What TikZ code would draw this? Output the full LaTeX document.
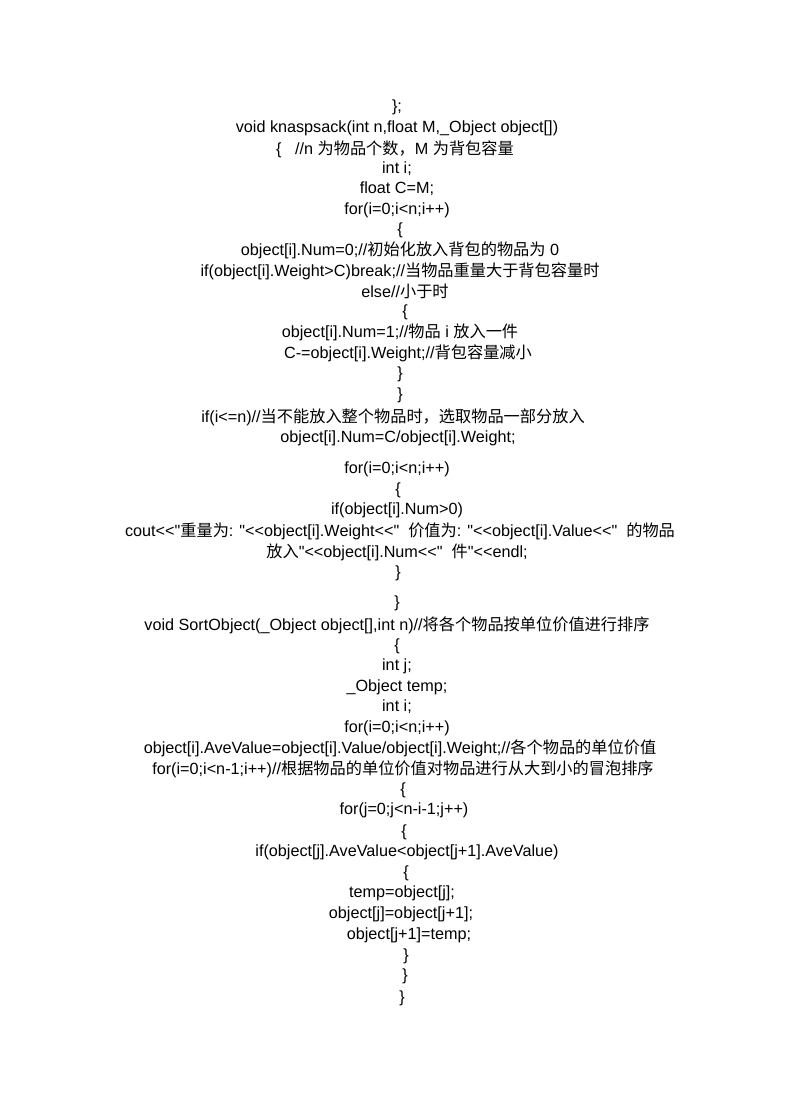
\documentclass[tikz,border=0pt]{standalone}
\usepackage{fontspec}
\setmainfont{Liberation Sans}[Ligatures=TeXOff]
\newfontfamily\cjk{Noto Sans CJK SC}
\newcommand\zh[1]{{\cjk #1}}
\newcommand\q{\char34 }
\tikzset{codeline/.style={inner sep=0pt,anchor=center,font=\fontsize{16.2bp}{18bp}\selectfont}}
\begin{document}
\begin{tikzpicture}[x=1bp,y=-1bp]
\useasboundingbox (0,0) rectangle (792,1120);
% knapsack
\node[codeline] (l1) at (397,107) {\};};
\node[codeline] (l2) at (397,128) {void knaspsack(int n,float M,\_Object object[])};
\node[codeline] (l3) at (395,149) {\{\ \ \ //n \zh{为物品个数，}M \zh{为背包容量}};
\node[codeline] (l4) at (397,169) {int i;};
\node[codeline] (l5) at (397,189) {float C=M;};
\node[codeline] (l6) at (397,210) {for(i=0;i<n;i++)};
\node[codeline] (l7) at (400,230) {\{};
\node[codeline] (l8) at (400,250) {object[i].Num=0;//\zh{初始化放入背包的物品为} 0};
\node[codeline] (l9) at (400,271) {if(object[i].Weight>C)break;//\zh{当物品重量大于背包容量时}};
\node[codeline] (l10) at (405,291) {else//\zh{小于时}};
\node[codeline] (l11) at (405,312) {\{};
\node[codeline] (l12) at (400,332) {object[i].Num=1;//\zh{物品} i \zh{放入一件}};
\node[codeline] (l13) at (408,353) {C-{}=object[i].Weight;//\zh{背包容量减小}};
\node[codeline] (l14) at (400,374) {\}};
\node[codeline] (l15) at (400,395) {\}};
\node[codeline] (l16) at (393,417) {if(i<=n)//\zh{当不能放入整个物品时，选取物品一部分放入}};
\node[codeline] (l17) at (398,438) {object[i].Num=C/object[i].Weight;};
% output
\node[codeline] (l18) at (397,469) {for(i=0;i<n;i++)};
\node[codeline] (l19) at (398,490) {\{};
\node[codeline] (l20) at (397,510) {if(object[i].Num>0)};
\node[codeline] (l21) at (400,531) {cout<{}<\q\zh{重量为}: \q<{}<object[i].Weight<{}<\q\ \ \zh{价值为}: \q<{}<object[i].Value<{}<\q\ \ \zh{的物品}};
\node[codeline] (l22) at (397,552) {\zh{放入}\q<{}<object[i].Num<{}<\q\ \ \zh{件}\q<{}<endl;};
\node[codeline] (l23) at (398,573) {\}};
\node[codeline] (l24) at (397,603) {\}};
% sort
\node[codeline] (l25) at (397,625) {void SortObject(\_Object object[],int n)//\zh{将各个物品按单位价值进行排序}};
\node[codeline] (l26) at (397,646) {\{};
\node[codeline] (l27) at (397,666) {int j;};
\node[codeline] (l28) at (397,687) {\_Object temp;};
\node[codeline] (l29) at (397,707) {int i;};
\node[codeline] (l30) at (397,728) {for(i=0;i<n;i++)};
\node[codeline] (l31) at (400,748) {object[i].AveValue=object[i].Value/object[i].Weight;//\zh{各个物品的单位价值}};
\node[codeline] (l32) at (403,769) {for(i=0;i<n-1;i++)//\zh{根据物品的单位价值对物品进行从大到小的冒泡排序}};
\node[codeline] (l33) at (403,790) {\{};
\node[codeline] (l34) at (404,810) {for(j=0;j<n-i-1;j++)};
\node[codeline] (l35) at (404,832) {\{};
\node[codeline] (l36) at (407,852) {if(object[j].AveValue<object[j+1].AveValue)};
\node[codeline] (l37) at (406,873) {\{};
\node[codeline] (l38) at (402,893) {temp=object[j];};
\node[codeline] (l39) at (401,914) {object[j]=object[j+1];};
\node[codeline] (l40) at (409,935) {object[j+1]=temp;};
\node[codeline] (l41) at (406,956) {\}};
\node[codeline] (l42) at (405,976) {\}};
\node[codeline] (l43) at (402,998) {\}};
\end{tikzpicture}
\end{document}
